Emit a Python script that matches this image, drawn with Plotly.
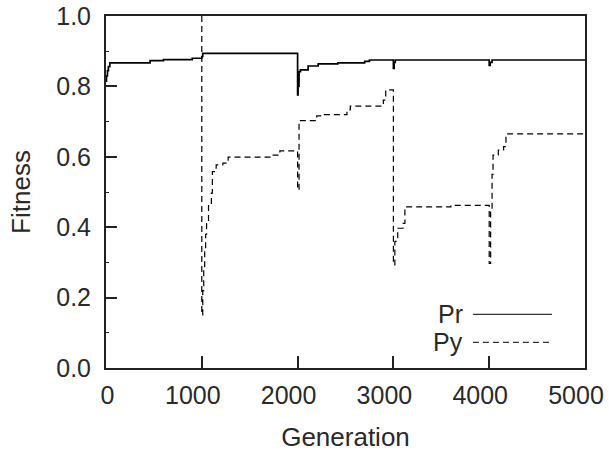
import plotly.graph_objects as go

# Pr (solid) step data: generation, fitness
pr_gen = [0, 5, 15, 25, 40, 460, 600, 900, 1000, 1010, 2000, 2005, 2015, 2030,
          2110, 2215, 2420, 2700, 2750, 3000, 3008, 3020, 4000, 4010, 4030, 5000]
pr_fit = [0.815, 0.83, 0.845, 0.856, 0.867, 0.873, 0.876, 0.880, 0.885, 0.894,
          0.776, 0.80, 0.842, 0.847, 0.858, 0.864, 0.867, 0.871, 0.875, 0.851,
          0.868, 0.875, 0.86, 0.868, 0.875, 0.875]

# Py (dashed) step data (starts at generation 1000 from the top of the chart)
py_gen = [1000, 1000, 1010, 1020, 1030, 1040, 1050, 1070, 1100, 1110, 1150, 1220,
          1275, 1745, 1815, 2000, 2015, 2200, 2250, 2515, 2550, 2895, 2920,
          3000, 3015, 3045, 3100, 3120, 3600, 4000, 4015, 4030, 4040, 4095,
          4150, 4175, 5000]
py_fit = [1.0, 0.15, 0.22, 0.28, 0.33, 0.38, 0.41, 0.463, 0.497, 0.558, 0.577,
          0.582, 0.599, 0.605, 0.617, 0.506, 0.703, 0.716, 0.72, 0.733, 0.744,
          0.761, 0.79, 0.293, 0.36, 0.397, 0.411, 0.458, 0.462, 0.297, 0.45,
          0.55, 0.605, 0.619, 0.629, 0.665, 0.665]

x_ticks = [0, 1000, 2000, 3000, 4000, 5000]
x_labels = ["0", "1000", "2000", "3000", "4000", "5000"]
y_ticks = [0.0, 0.2, 0.4, 0.6, 0.8, 1.0]
y_labels = ["0.0", "0.2", "0.4", "0.6", "0.8", "1.0"]
series_names = ["Pr", "Py"]

FONT = "Liberation Sans, Arial, sans-serif"
TXT = "#2a2a2a"
NB = "\u00a0"

# labels sit a little left of their ticks in the original; the lone "0" a bit right
x_text = [NB * 3 + x_labels[0]] + x_labels[1:]

fig = go.Figure()
fig.add_trace(go.Scatter(x=pr_gen, y=pr_fit, mode="lines", name=series_names[0],
                         line=dict(color="black", width=1.7, shape="hv"),
                         showlegend=False))
fig.add_trace(go.Scatter(x=py_gen, y=py_fit, mode="lines", name=series_names[1],
                         line=dict(color="black", width=1.2, shape="hv", dash="6px,4px"),
                         showlegend=False))

# manual legend (text left, line sample right)
leg_y = [0.1526, 0.073]
dashes = ["solid", "6px,4px"]
for name, yy, dsh in zip(series_names, leg_y, dashes):
    fig.add_annotation(x=0.749, y=yy, xref="paper", yref="paper", text=name,
                       showarrow=False, xanchor="right", yanchor="middle",
                       font=dict(family=FONT, size=25, color=TXT))
    fig.add_shape(type="line", xref="paper", yref="paper", x0=0.766, x1=0.931,
                  y0=yy, y1=yy, line=dict(color="black", width=1, dash=dsh))

fig.update_layout(
    width=609, height=456,
    margin=dict(l=106, r=24, t=16, b=88),
    paper_bgcolor="white", plot_bgcolor="white",
    font=dict(family=FONT, size=25, color=TXT),
)
fig.update_xaxes(
    range=[0, 5000], tickvals=x_ticks, ticktext=x_text, automargin=False,
    ticklabeloverflow="allow", ticklabelshift=-9,
    ticks="inside", ticklen=12, tickwidth=2, tickcolor="#222",
    showline=True, linewidth=2, linecolor="#222", mirror=True,
    showgrid=False, zeroline=False, ticklabelstandoff=4,
    title=dict(text="Generation", font=dict(size=26, color=TXT), standoff=20),
)
fig.update_yaxes(
    range=[0, 1], tickvals=y_ticks, ticktext=y_labels, automargin=False,
    ticklabeloverflow="allow",
    ticks="inside", ticklen=11, tickwidth=2, tickcolor="#222",
    minor=dict(dtick=0.1, ticks="inside", ticklen=3, tickwidth=1, tickcolor="#222"),
    showline=True, linewidth=2, linecolor="#222", mirror=True,
    showgrid=False, zeroline=False, ticklabelstandoff=8,
    title=dict(text="Fitness", font=dict(size=26, color=TXT), standoff=18),
)

fig.write_html("out.html", config={"displayModeBar": False},
               post_script="document.body.style.margin='0';document.body.style.overflow='hidden';")
